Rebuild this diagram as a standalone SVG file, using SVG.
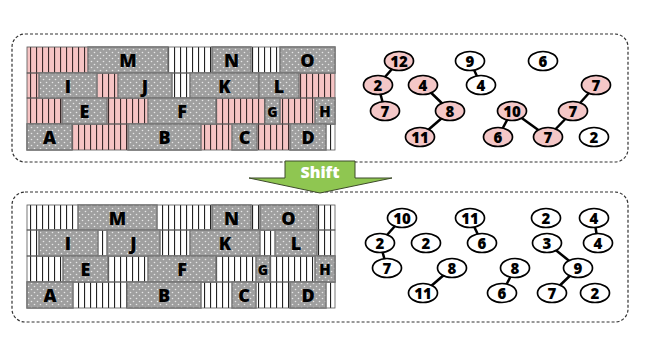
<svg xmlns="http://www.w3.org/2000/svg" width="648" height="340" viewBox="0 0 648 340">
<style>
.panel{fill:#fff;stroke:#333;stroke-width:1.2;stroke-dasharray:3 2}
.ps{fill:url(#pinkStripe)}
.ws{fill:url(#whiteStripe)}
.row{fill:none;stroke:#555;stroke-width:0.8}
.blk{fill:url(#dots);stroke:#777;stroke-width:1.5}
.bl{font-family:"Open Sans","Liberation Sans",sans-serif;font-weight:800;font-size:18px;fill:#000;text-anchor:middle;dominant-baseline:central}
.n{stroke:#000;stroke-width:1.7}
.pk{fill:#f4c7c7}
.wh{fill:#fff}
.nt{font-family:"Open Sans","Liberation Sans",sans-serif;font-weight:800;font-size:15px;fill:#000;text-anchor:middle;dominant-baseline:central}
.e{stroke:#000;stroke-width:2.5}
</style>
<defs>
<pattern id="pinkStripe" width="6" height="10" patternUnits="userSpaceOnUse"><rect width="6" height="10" fill="#f6c4c4"/><rect x="0" width="1.1" height="10" fill="#3a2a2a"/></pattern>
<pattern id="whiteStripe" width="6" height="10" patternUnits="userSpaceOnUse"><rect width="6" height="10" fill="#fff"/><rect x="0" width="1.1" height="10" fill="#222"/></pattern>
<pattern id="dots" width="6" height="6" patternUnits="userSpaceOnUse"><rect width="6" height="6" fill="#9f9f9f"/><circle cx="1.5" cy="1.5" r="0.8" fill="#e6e6e6"/><circle cx="4.5" cy="4.5" r="0.8" fill="#e6e6e6"/></pattern>
</defs>

<rect class="panel" x="12" y="34" width="616" height="128" rx="13"/>
<rect class="panel" x="12" y="192" width="616" height="130" rx="13"/>

<g id="top-grid">
<rect class="ps" x="27" y="47" width="61" height="26"/>
<rect class="ws" x="168" y="47" width="44" height="26"/>
<rect class="ws" x="251" y="47" width="29" height="26"/>
<rect class="ps" x="27" y="73" width="12" height="25"/>
<rect class="ps" x="97" y="73" width="21" height="25"/>
<rect class="ws" x="172" y="73" width="18" height="25"/>
<rect class="ps" x="299" y="73" width="36" height="25"/>
<rect class="ps" x="27" y="98" width="35" height="26"/>
<rect class="ps" x="107" y="98" width="41" height="26"/>
<rect class="ps" x="216" y="98" width="49" height="26"/>
<rect class="ps" x="280" y="98" width="35" height="26"/>
<rect class="ps" x="72" y="124" width="56" height="26"/>
<rect class="ps" x="201" y="124" width="31" height="26"/>
<rect class="ps" x="257" y="124" width="33" height="26"/>
<rect class="ws" x="326" y="124" width="9" height="26"/>
<rect class="row" x="27" y="47" width="308" height="26"/>
<rect class="row" x="27" y="73" width="308" height="25"/>
<rect class="row" x="27" y="98" width="308" height="26"/>
<rect class="row" x="27" y="124" width="308" height="26"/>
</g>
<g id="top-M"><rect class="blk" x="88" y="47" width="80" height="26"/><text class="bl" x="128" y="60">M</text></g>
<g id="top-N"><rect class="blk" x="212" y="47" width="39" height="26"/><text class="bl" x="231.5" y="60">N</text></g>
<g id="top-O"><rect class="blk" x="280" y="47" width="55" height="26"/><text class="bl" x="307.5" y="60">O</text></g>
<g id="top-I"><rect class="blk" x="39" y="73" width="58" height="25"/><text class="bl" x="68" y="85.5">I</text></g>
<g id="top-J"><rect class="blk" x="118" y="73" width="54" height="25"/><text class="bl" x="145" y="85.5">J</text></g>
<g id="top-K"><rect class="blk" x="190" y="73" width="69" height="25"/><text class="bl" x="224.5" y="85.5">K</text></g>
<g id="top-L"><rect class="blk" x="259" y="73" width="40" height="25"/><text class="bl" x="279" y="85.5">L</text></g>
<g id="top-E"><rect class="blk" x="62" y="98" width="45" height="26"/><text class="bl" x="84.5" y="111">E</text></g>
<g id="top-F"><rect class="blk" x="148" y="98" width="68" height="26"/><text class="bl" x="182" y="111">F</text></g>
<g id="top-G"><rect class="blk" x="265" y="98" width="15" height="26"/><text class="bl" x="272.5" y="111" style="font-size:14px">G</text></g>
<g id="top-H"><rect class="blk" x="315" y="98" width="20" height="26"/><text class="bl" x="325" y="111" style="font-size:15px">H</text></g>
<g id="top-A"><rect class="blk" x="27" y="124" width="45" height="26"/><text class="bl" x="49.5" y="137">A</text></g>
<g id="top-B"><rect class="blk" x="128" y="124" width="73" height="26"/><text class="bl" x="164.5" y="137">B</text></g>
<g id="top-C"><rect class="blk" x="232" y="124" width="25" height="26"/><text class="bl" x="244.5" y="137">C</text></g>
<g id="top-D"><rect class="blk" x="290" y="124" width="36" height="26"/><text class="bl" x="308" y="137">D</text></g>

<g id="bottom-grid">
<rect class="ws" x="27" y="205" width="308" height="25"/>
<rect class="ws" x="27" y="230" width="308" height="26"/>
<rect class="ws" x="27" y="256" width="308" height="26"/>
<rect class="ws" x="27" y="282" width="308" height="26"/>
<rect class="row" x="27" y="205" width="308" height="25"/>
<rect class="row" x="27" y="230" width="308" height="26"/>
<rect class="row" x="27" y="256" width="308" height="26"/>
<rect class="row" x="27" y="282" width="308" height="26"/>
</g>
<g id="bot-M"><rect class="blk" x="78" y="205" width="79" height="25"/><text class="bl" x="117.5" y="217.5">M</text></g>
<g id="bot-N"><rect class="blk" x="212" y="205" width="39" height="25"/><text class="bl" x="231.5" y="217.5">N</text></g>
<g id="bot-O"><rect class="blk" x="260" y="205" width="57" height="25"/><text class="bl" x="288.5" y="217.5">O</text></g>
<g id="bot-I"><rect class="blk" x="39" y="230" width="59" height="26"/><text class="bl" x="68" y="243">I</text></g>
<g id="bot-J"><rect class="blk" x="107" y="230" width="53" height="26"/><text class="bl" x="133.5" y="243">J</text></g>
<g id="bot-K"><rect class="blk" x="190" y="230" width="70" height="26"/><text class="bl" x="225" y="243">K</text></g>
<g id="bot-L"><rect class="blk" x="275" y="230" width="42" height="26"/><text class="bl" x="296" y="243">L</text></g>
<g id="bot-E"><rect class="blk" x="63" y="256" width="45" height="26"/><text class="bl" x="85.5" y="269">E</text></g>
<g id="bot-F"><rect class="blk" x="148" y="256" width="68" height="26"/><text class="bl" x="182" y="269">F</text></g>
<g id="bot-G"><rect class="blk" x="256" y="256" width="14" height="26"/><text class="bl" x="263" y="269" style="font-size:14px">G</text></g>
<g id="bot-H"><rect class="blk" x="315" y="256" width="20" height="26"/><text class="bl" x="325" y="269" style="font-size:15px">H</text></g>
<g id="bot-A"><rect class="blk" x="27" y="282" width="46" height="26"/><text class="bl" x="50" y="295">A</text></g>
<g id="bot-B"><rect class="blk" x="127" y="282" width="74" height="26"/><text class="bl" x="164" y="295">B</text></g>
<g id="bot-C"><rect class="blk" x="232" y="282" width="24" height="26"/><text class="bl" x="244" y="295">C</text></g>
<g id="bot-D"><rect class="blk" x="290" y="282" width="36" height="26"/><text class="bl" x="308" y="295">D</text></g>

<g id="shift">
<path d="M285,161 L355,161 L355,178 L392,178 L320,193 L249,178 L285,178 Z" fill="#8fc651" stroke="#3d4a2a" stroke-width="1"/>
<text x="320" y="172" font-family="Open Sans,Liberation Sans,sans-serif" font-weight="800" font-size="16" fill="#fff" text-anchor="middle" dominant-baseline="central">Shift</text>
</g>

<g id="connectors">
<line class="e" x1="399" y1="61" x2="378" y2="85"/>
<line class="e" x1="378" y1="85" x2="385" y2="111"/>
<line class="e" x1="423" y1="85" x2="450" y2="111"/>
<line class="e" x1="450" y1="111" x2="420" y2="137"/>
<line class="e" x1="470" y1="61" x2="481" y2="85"/>
<line class="e" x1="512" y1="111" x2="498" y2="137"/>
<line class="e" x1="512" y1="111" x2="548" y2="137"/>
<line class="e" x1="548" y1="137" x2="573" y2="111"/>
<line class="e" x1="573" y1="111" x2="596" y2="85"/>
<line class="e" x1="402" y1="218" x2="380" y2="243"/>
<line class="e" x1="380" y1="243" x2="387" y2="268"/>
<line class="e" x1="452" y1="268" x2="423" y2="293"/>
<line class="e" x1="470" y1="218" x2="482" y2="243"/>
<line class="e" x1="515" y1="268" x2="502" y2="293"/>
<line class="e" x1="547" y1="243" x2="578" y2="268"/>
<line class="e" x1="578" y1="268" x2="552" y2="293"/>
<line class="e" x1="594" y1="218" x2="598" y2="243"/>
</g>

<g id="t12"><ellipse class="n pk" cx="399" cy="61" rx="14.5" ry="9.5"/><text class="nt" x="399" y="61">12</text></g>
<g id="t2a"><ellipse class="n pk" cx="378" cy="85" rx="14.5" ry="9.5"/><text class="nt" x="378" y="85">2</text></g>
<g id="t7a"><ellipse class="n pk" cx="385" cy="111" rx="14.5" ry="9.5"/><text class="nt" x="385" y="111">7</text></g>
<g id="t4a"><ellipse class="n pk" cx="423" cy="85" rx="14.5" ry="9.5"/><text class="nt" x="423" y="85">4</text></g>
<g id="t8"><ellipse class="n pk" cx="450" cy="111" rx="14.5" ry="9.5"/><text class="nt" x="450" y="111">8</text></g>
<g id="t11"><ellipse class="n pk" cx="420" cy="137" rx="14.5" ry="9.5"/><text class="nt" x="420" y="137">11</text></g>
<g id="t9"><ellipse class="n wh" cx="470" cy="61" rx="14.5" ry="9.5"/><text class="nt" x="470" y="61">9</text></g>
<g id="t4b"><ellipse class="n wh" cx="481" cy="85" rx="14.5" ry="9.5"/><text class="nt" x="481" y="85">4</text></g>
<g id="t6a"><ellipse class="n wh" cx="543" cy="61" rx="14.5" ry="9.5"/><text class="nt" x="543" y="61">6</text></g>
<g id="t10"><ellipse class="n pk" cx="512" cy="111" rx="14.5" ry="9.5"/><text class="nt" x="512" y="111">10</text></g>
<g id="t6b"><ellipse class="n pk" cx="498" cy="137" rx="14.5" ry="9.5"/><text class="nt" x="498" y="137">6</text></g>
<g id="t7b"><ellipse class="n pk" cx="548" cy="137" rx="14.5" ry="9.5"/><text class="nt" x="548" y="137">7</text></g>
<g id="t7c"><ellipse class="n pk" cx="573" cy="111" rx="14.5" ry="9.5"/><text class="nt" x="573" y="111">7</text></g>
<g id="t7d"><ellipse class="n pk" cx="596" cy="85" rx="14.5" ry="9.5"/><text class="nt" x="596" y="85">7</text></g>
<g id="t2b"><ellipse class="n wh" cx="594" cy="137" rx="14.5" ry="9.5"/><text class="nt" x="594" y="137">2</text></g>

<g id="b10"><ellipse class="n wh" cx="402" cy="218" rx="14.5" ry="9.5"/><text class="nt" x="402" y="218">10</text></g>
<g id="b2a"><ellipse class="n wh" cx="380" cy="243" rx="14.5" ry="9.5"/><text class="nt" x="380" y="243">2</text></g>
<g id="b7a"><ellipse class="n wh" cx="387" cy="268" rx="14.5" ry="9.5"/><text class="nt" x="387" y="268">7</text></g>
<g id="b2b"><ellipse class="n wh" cx="426" cy="243" rx="14.5" ry="9.5"/><text class="nt" x="426" y="243">2</text></g>
<g id="b8a"><ellipse class="n wh" cx="452" cy="268" rx="14.5" ry="9.5"/><text class="nt" x="452" y="268">8</text></g>
<g id="b11a"><ellipse class="n wh" cx="423" cy="293" rx="14.5" ry="9.5"/><text class="nt" x="423" y="293">11</text></g>
<g id="b11b"><ellipse class="n wh" cx="470" cy="218" rx="14.5" ry="9.5"/><text class="nt" x="470" y="218">11</text></g>
<g id="b6a"><ellipse class="n wh" cx="482" cy="243" rx="14.5" ry="9.5"/><text class="nt" x="482" y="243">6</text></g>
<g id="b8b"><ellipse class="n wh" cx="515" cy="268" rx="14.5" ry="9.5"/><text class="nt" x="515" y="268">8</text></g>
<g id="b6b"><ellipse class="n wh" cx="502" cy="293" rx="14.5" ry="9.5"/><text class="nt" x="502" y="293">6</text></g>
<g id="b2c"><ellipse class="n wh" cx="546" cy="218" rx="14.5" ry="9.5"/><text class="nt" x="546" y="218">2</text></g>
<g id="b3"><ellipse class="n wh" cx="547" cy="243" rx="14.5" ry="9.5"/><text class="nt" x="547" y="243">3</text></g>
<g id="b4a"><ellipse class="n wh" cx="594" cy="218" rx="14.5" ry="9.5"/><text class="nt" x="594" y="218">4</text></g>
<g id="b4b"><ellipse class="n wh" cx="598" cy="243" rx="14.5" ry="9.5"/><text class="nt" x="598" y="243">4</text></g>
<g id="b9"><ellipse class="n wh" cx="578" cy="268" rx="14.5" ry="9.5"/><text class="nt" x="578" y="268">9</text></g>
<g id="b7b"><ellipse class="n wh" cx="552" cy="293" rx="14.5" ry="9.5"/><text class="nt" x="552" y="293">7</text></g>
<g id="b2d"><ellipse class="n wh" cx="595" cy="293" rx="14.5" ry="9.5"/><text class="nt" x="595" y="293">2</text></g>
</svg>
